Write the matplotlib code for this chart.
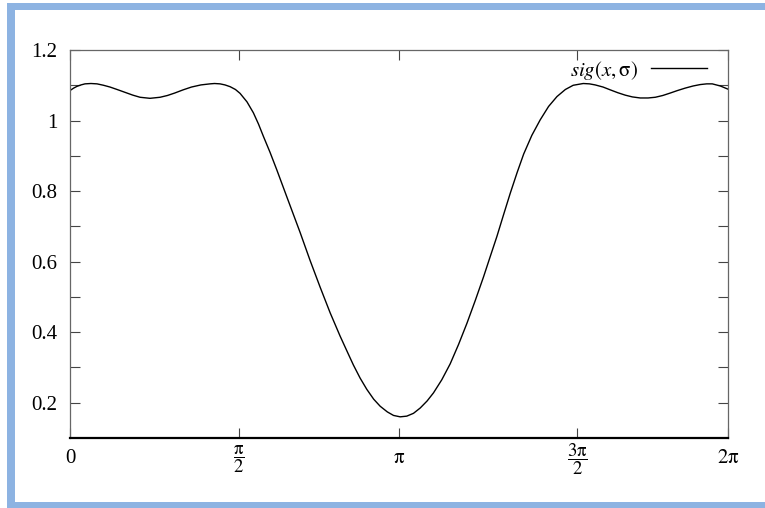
import numpy as np
import matplotlib
matplotlib.use("Agg")
import matplotlib.pyplot as plt
from matplotlib.patches import Rectangle

# values
x_vals = [0.000, 0.035, 0.067, 0.105, 0.143, 0.200, 0.258, 0.320, 0.382, 0.450,
          0.525, 0.600, 0.669, 0.764, 0.860, 0.930, 1.000, 1.080, 1.160, 1.250,
          1.337, 1.380, 1.433, 1.480, 1.529, 1.580, 1.624, 1.690, 1.751, 1.800,
          1.847, 1.910, 1.975, 2.070, 2.197, 2.293, 2.388, 2.484, 2.579, 2.650,
          2.706, 2.770, 2.834, 2.900, 2.962, 3.030, 3.089, 3.153, 3.216, 3.280,
          3.344, 3.410, 3.471, 3.550, 3.630, 3.710, 3.790, 3.870, 3.949, 4.010,
          4.076, 4.140, 4.204, 4.270, 4.332, 4.410, 4.490, 4.570, 4.650, 4.730,
          4.805, 4.901, 4.960, 5.015, 5.090, 5.159, 5.230, 5.302, 5.370, 5.445,
          5.520, 5.589, 5.660, 5.732, 5.800, 5.875, 5.950, 6.018, 6.080, 6.133,
          6.210, 6.283]
y_vals = [1.085, 1.092, 1.097, 1.101, 1.104, 1.105, 1.104, 1.100, 1.095, 1.088,
          1.080, 1.072, 1.066, 1.063, 1.066, 1.071, 1.078, 1.087, 1.095, 1.101,
          1.104, 1.105, 1.104, 1.101, 1.096, 1.088, 1.077, 1.053, 1.022, 0.990,
          0.955, 0.910, 0.860, 0.784, 0.683, 0.603, 0.528, 0.455, 0.389, 0.343,
          0.307, 0.270, 0.238, 0.210, 0.190, 0.174, 0.164, 0.160, 0.162, 0.170,
          0.185, 0.205, 0.228, 0.265, 0.310, 0.365, 0.425, 0.490, 0.557, 0.612,
          0.671, 0.733, 0.794, 0.853, 0.905, 0.958, 1.002, 1.040, 1.068, 1.088,
          1.100, 1.105, 1.104, 1.101, 1.095, 1.087, 1.079, 1.072, 1.067, 1.064,
          1.064, 1.066, 1.071, 1.078, 1.085, 1.092, 1.098, 1.102, 1.104, 1.104,
          1.098, 1.089]

xtick_pos = [0, 1.611, np.pi, 4.841, 2 * np.pi]
xtick_labels = ["0", r"$\dfrac{\mathrm{\pi}}{2}$", r"$\mathrm{\pi}$",
                r"$\dfrac{3\mathrm{\pi}}{2}$", r"$2\mathrm{\pi}$"]
ytick_major = [0.2, 0.4, 0.6, 0.8, 1.0, 1.2]
ytick_labels = ["0.2", "0.4", "0.6", "0.8", "1", "1.2"]
ytick_minor = [0.3, 0.5, 0.7, 0.9, 1.1]
legend_label = r"$sig(x,\mathrm{\sigma})$"

plt.rcParams["font.family"] = ["Liberation Serif", "DejaVu Serif"]
plt.rcParams["mathtext.fontset"] = "stix"

fig = plt.figure(figsize=(7.65, 5.08), dpi=100)
fig.patch.set_facecolor("white")

# light blue frame around the picture
blue = "#8db3e2"
fig.patches.append(Rectangle((7 / 765, 0), 8 / 765, 505 / 508, transform=fig.transFigure,
                             facecolor=blue, edgecolor="none"))
fig.patches.append(Rectangle((7 / 765, 498 / 508), 758 / 765, 7 / 508, transform=fig.transFigure,
                             facecolor=blue, edgecolor="none"))
fig.patches.append(Rectangle((7 / 765, 0), 758 / 765, 6 / 508, transform=fig.transFigure,
                             facecolor=blue, edgecolor="none"))

ax = fig.add_axes([70 / 765, 70 / 508, 658 / 765, 388 / 508])
ax.plot(x_vals, y_vals, color="black", lw=1.0, label=legend_label)

ax.set_xlim(0, 2 * np.pi)
ax.set_ylim(0.1, 1.2)

ax.set_xticks(xtick_pos, labels=xtick_labels)
ax.set_yticks(ytick_major, labels=ytick_labels)
ax.set_yticks(ytick_minor, minor=True)

ax.tick_params(axis="both", which="both", direction="in", length=7, width=0.8,
               color="#444444", top=True, right=True)
ax.tick_params(axis="y", labelsize=15, pad=9)
ax.tick_params(axis="x", labelsize=15, pad=15)
for lab in ax.get_xticklabels():
    lab.set_verticalalignment("center")
    if "frac" in lab.get_text():
        lab.set_fontsize(13.5)

for side in ["left", "top", "right"]:
    ax.spines[side].set_color("#666666")
    ax.spines[side].set_linewidth(0.9)
ax.spines["bottom"].set_color("black")
ax.spines["bottom"].set_linewidth(1.6)

ax.legend(loc="center right", bbox_to_anchor=(0.968, 0.948), frameon=False,
          markerfirst=False, handlelength=2.7, handletextpad=0.6,
          borderaxespad=0, borderpad=0, fontsize=15)

fig.savefig("out.png", dpi=100)
